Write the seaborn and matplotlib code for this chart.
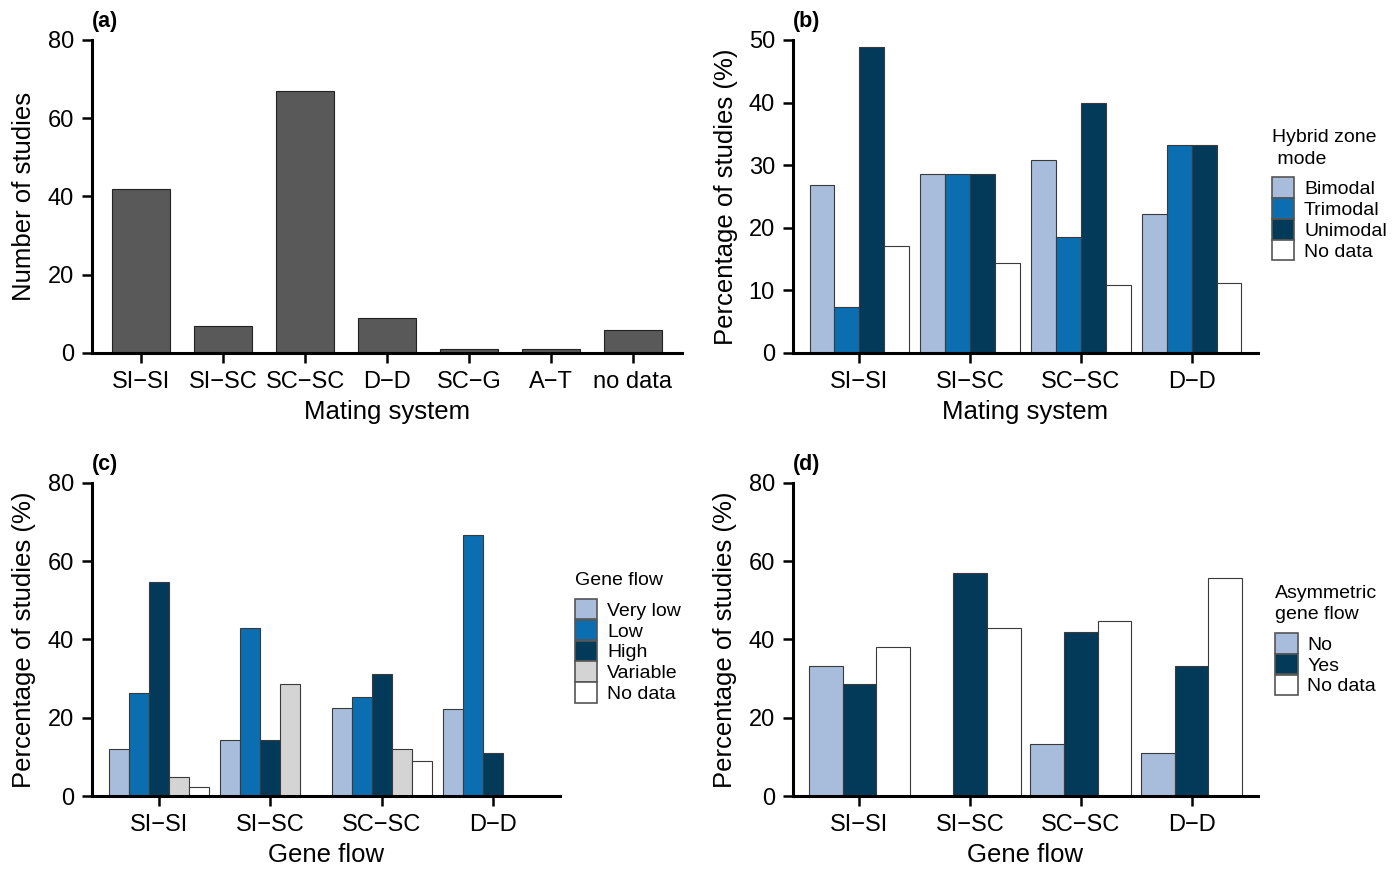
import matplotlib
matplotlib.use("Agg")
import matplotlib.pyplot as plt
import seaborn as sns
import pandas as pd

# ---------------- data ----------------
mating_a = ["SI\u2212SI", "SI\u2212SC", "SC\u2212SC", "D\u2212D", "SC\u2212G", "A\u2212T", "no data"]
counts_a = [42, 7, 67, 9, 1, 1, 6]

groups = ["SI\u2212SI", "SI\u2212SC", "SC\u2212SC", "D\u2212D"]

modes_b = ["Bimodal", "Trimodal", "Unimodal", "No data"]
bimodal_b = [26.8, 28.6, 30.8, 22.2]
trimodal_b = [7.3, 28.6, 18.5, 33.3]
unimodal_b = [48.8, 28.6, 40.0, 33.3]
nodata_b = [17.1, 14.3, 10.8, 11.1]

flow_c = ["Very low", "Low", "High", "Variable", "No data"]
verylow_c = [11.9, 14.3, 22.4, 22.2]
low_c = [26.2, 42.9, 25.4, 66.7]
high_c = [54.8, 14.3, 31.3, 11.1]
variable_c = [4.8, 28.6, 11.9, 0.0]
nodata_c = [2.4, 0.0, 9.0, 0.0]

asym_d = ["No", "Yes", "No data"]
no_d = [33.3, 0.0, 13.3, 11.1]
yes_d = [28.6, 57.1, 41.9, 33.3]
nodata_d = [38.1, 42.9, 44.8, 55.6]

# ---------------- style ----------------
sns.set_theme(style="ticks")
plt.rcParams["font.family"] = ["Liberation Sans", "DejaVu Sans"]
plt.rcParams["text.color"] = "black"
plt.rcParams["axes.labelcolor"] = "black"
plt.rcParams["xtick.color"] = "black"
plt.rcParams["ytick.color"] = "black"

LIGHT = "#a7bddb"
MID = "#0a6eb0"
DARK = "#033a5a"
GREY = "#d4d4d4"
WHITE = "#ffffff"
EDGE = "#3a3a3a"

TICK_FS = 17
LAB_FS = 18.5
LEG_FS = 14

fig = plt.figure(figsize=(14, 8.69), dpi=100)
pos = {
    "a": [0.0657, 0.5938, 0.4214, 0.3602],
    "b": [0.5664, 0.5938, 0.3322, 0.3602],
    "c": [0.0657, 0.0840, 0.3343, 0.3602],
    "d": [0.5664, 0.0840, 0.3322, 0.3602],
}
axes = {k: fig.add_axes(v) for k, v in pos.items()}


def long_df(cats, series_names, series_values):
    rows = []
    for name, vals in zip(series_names, series_values):
        for c, v in zip(cats, vals):
            rows.append({"cat": c, "series": name, "val": v})
    return pd.DataFrame(rows)


def style_axis(ax, ylim, yticks, xlabel, ylabel, ncat, letter):
    ax.set_ylim(*ylim)
    ax.set_yticks(yticks)
    ax.set_xlim(-0.6, ncat - 1 + 0.6)
    sns.despine(ax=ax)
    for s in ["left", "bottom"]:
        ax.spines[s].set_linewidth(2.2)
        ax.spines[s].set_color("black")
    ax.tick_params(axis="both", direction="out", width=1.8, length=7,
                   labelsize=TICK_FS, colors="black", pad=6)
    ax.set_xlabel(xlabel, fontsize=LAB_FS, labelpad=5, color="black")
    ax.set_ylabel(ylabel, fontsize=LAB_FS, labelpad=8, color="black")
    ax.text(0.0, 1.025, f"({letter})", transform=ax.transAxes,
            fontsize=15.5, fontweight="bold", ha="left", va="bottom", color="black")


def add_legend(ax, title, anchor):
    handles, labels = ax.get_legend_handles_labels()
    leg = ax.legend(handles, labels, title=title, loc="upper left",
                    bbox_to_anchor=anchor, frameon=False, fontsize=LEG_FS,
                    title_fontsize=LEG_FS, handlelength=1.15, handleheight=1.25,
                    labelspacing=0.0, handletextpad=0.5, borderaxespad=0,
                    borderpad=0)
    leg._legend_box.align = "left"
    leg._legend_box.sep = 7
    for h in leg.legend_handles:
        h.set_edgecolor("#555555")
        h.set_linewidth(1.2)
    for t in leg.get_texts():
        t.set_color("black")
    leg.get_title().set_color("black")
    leg.get_title().set_linespacing(1.35)


# ---- (a) ----
ax = axes["a"]
df_a = pd.DataFrame({"cat": mating_a, "val": counts_a})
sns.barplot(data=df_a, x="cat", y="val", color="#595959", width=0.71,
            edgecolor="#222222", linewidth=0.8, ax=ax, saturation=1)
style_axis(ax, (0, 80), [0, 20, 40, 60, 80], "Mating system", "Number of studies",
           len(mating_a), "a")

# ---- (b) ----
ax = axes["b"]
df_b = long_df(groups, modes_b, [bimodal_b, trimodal_b, unimodal_b, nodata_b])
sns.barplot(data=df_b, x="cat", y="val", hue="series", hue_order=modes_b,
            palette=[LIGHT, MID, DARK, WHITE], width=0.9, edgecolor=EDGE,
            linewidth=0.8, ax=ax, saturation=1)
style_axis(ax, (0, 50), [0, 10, 20, 30, 40, 50], "Mating system",
           "Percentage of studies (%)", len(groups), "b")
add_legend(ax, "Hybrid zone\n mode", (1.03, 0.715))

# ---- (c) ----
ax = axes["c"]
df_c = long_df(groups, flow_c, [verylow_c, low_c, high_c, variable_c, nodata_c])
sns.barplot(data=df_c, x="cat", y="val", hue="series", hue_order=flow_c,
            palette=[LIGHT, MID, DARK, GREY, WHITE], width=0.9, edgecolor=EDGE,
            linewidth=0.8, ax=ax, saturation=1)
style_axis(ax, (0, 80), [0, 20, 40, 60, 80], "Gene flow",
           "Percentage of studies (%)", len(groups), "c")
add_legend(ax, "Gene flow", (1.032, 0.715))

# ---- (d) ----
ax = axes["d"]
df_d = long_df(groups, asym_d, [no_d, yes_d, nodata_d])
sns.barplot(data=df_d, x="cat", y="val", hue="series", hue_order=asym_d,
            palette=[LIGHT, DARK, WHITE], width=0.91, edgecolor=EDGE,
            linewidth=0.8, ax=ax, saturation=1)
style_axis(ax, (0, 80), [0, 20, 40, 60, 80], "Gene flow",
           "Percentage of studies (%)", len(groups), "d")
add_legend(ax, "Asymmetric\ngene flow", (1.037, 0.675))

fig.savefig("out.png", dpi=100)
